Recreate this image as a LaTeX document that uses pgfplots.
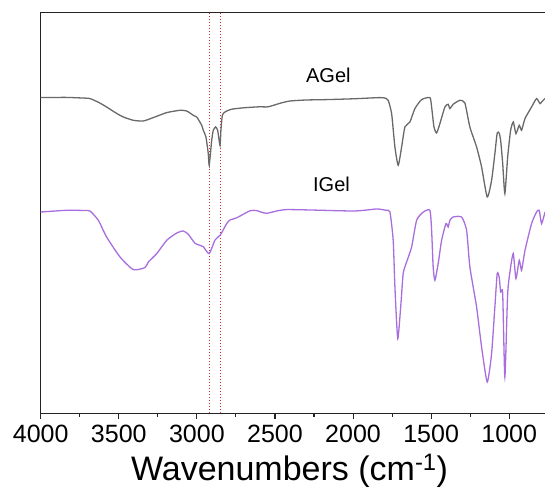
\documentclass[border=0pt]{standalone}
\usepackage{fontspec}
\setmainfont{Liberation Sans}
\usepackage{pgfplots}
\pgfplotsset{compat=1.18}
\usetikzlibrary{calc}
\definecolor{agray}{RGB}{105,105,105}
\definecolor{ipurp}{RGB}{168,110,222}
\definecolor{dred}{RGB}{205,50,50}
\definecolor{axc}{RGB}{35,35,35}
\begin{document}
\begin{tikzpicture}
\begin{axis}[
  name=ax,
  scale only axis,
  width=504.3pt, height=401pt,
  x dir=reverse,
  xmin=771, xmax=4000,
  ymin=0, ymax=401,
  separate axis lines,
  axis x line*=box,
  axis y line*=left,
  axis line style={-, axc, line width=1.2pt},
  ytick=\empty,
  xtick={1000,1500,2000,2500,3000,3500,4000},
  minor xtick={1250,1750,2250,2750,3250,3750},
  xtick pos=bottom,
  tick align=outside,
  major tick length=5.5pt,
  minor tick length=3.5pt,
  every tick/.style={axc, line width=1.1pt},
  scaled x ticks=false,
  /pgf/number format/1000 sep={},
  /pgf/number format/assume math mode=true,
  xticklabel style={font=\fontsize{25}{28}\selectfont, anchor=base, yshift=-24pt},
  xlabel={Wavenumbers (cm\textsuperscript{-1})},
  xlabel style={font=\fontsize{34}{36}\selectfont, anchor=base, at={(axis description cs:0.4934,0)}, yshift=-66.7pt},
  clip=true,
]
\addplot[dred, line width=1pt, dash pattern=on 1.6pt off 1.4pt] coordinates {(2920,0) (2920,401)};
\addplot[dred, line width=1pt, dash pattern=on 1.6pt off 1.4pt] coordinates {(2850,0) (2850,401)};
\addplot[agray, line width=1.3pt, smooth, tension=0.35] table {
4000 315.7
3840 315.9
3720 315.2
3684 314.7
3630 311
3578 306.3
3520 300.5
3471 296.3
3407 293
3343 292.3
3279 295.7
3193 300.7
3108 303
3065 302.3
3023 298
3001 296.3
2969 288
2959 283
2942 276.3
2927 259.7
2921 248
2905 273
2895 283
2880 286.3
2867 283
2852 268
2846 283
2837 298
2820 301.3
2780 304
2700 305.5
2600 306.5
2543 306.5
2468 310
2404 312.3
2300 313.3
2169 313.7
2000 314.5
1828 315.7
1790 315
1775 313
1753 299.7
1732 266.3
1711 248
1689 266.3
1668 286.3
1636 291.3
1604 304.7
1561 313.7
1508 315.7
1497 306.3
1482 286.3
1465 280.3
1444 289.7
1412 306.3
1391 309
1380 304.7
1359 309
1316 313
1284 310.3
1252 286.3
1209 266.3
1177 246.3
1141 216.3
1113 233
1092 259.7
1077 280.3
1064 280
1055 273
1042 250
1028 219.7
1010 256.3
991 283
974 291.3
957 279.7
936 288
921 283
899 294.7
857 306.3
825 314.7
803 309.7
789 312
771 314.7
};
\addplot[ipurp, line width=1.3pt, smooth, tension=0.35] table {
4000 201.3
3834 203
3720 202.8
3684 202.3
3631 193
3578 176.3
3492 156.3
3407 143.7
3332 145.7
3311 151.3
3257 159.7
3193 173
3129 180.3
3087 182.3
3055 179
3012 170
2980 168
2959 166.6
2921 159.7
2884 173.3
2850 178.3
2809 189.7
2788 193.3
2745 195.5
2660 202.5
2617 202.7
2553 200
2425 203.7
2000 202.3
1849 204.3
1790 203
1764 201.3
1743 173
1732 126.3
1714 74.7
1695 106.3
1679 139.7
1657 151.3
1625 166.3
1593 193
1550 201.3
1508 203
1497 183
1487 146.3
1476 133
1455 149.7
1433 173
1405 189.7
1391 186.3
1380 193
1359 196.3
1305 196.3
1273 183
1252 146.3
1209 106.3
1177 66.3
1141 31.3
1113 59.7
1092 106.3
1077 139.7
1064 136
1055 121.3
1042 120
1028 36.3
1010 120
991 146.3
974 159.7
957 134.7
936 153
921 143
899 163
857 189.7
825 201.3
808 203
793 189.7
771 201.3
};
\node[font=\fontsize{20}{22}\selectfont, text=black] at (axis cs:2158,337.8) {AGel};
\node[font=\fontsize{20}{22}\selectfont, text=black] at (axis cs:2138,229.3) {IGel};
\end{axis}
\pgfresetboundingbox
\path[use as bounding box] ($(ax.south west)+(-40.7pt,-75.7pt)$) rectangle ($(ax.south west)+(504.3pt,413.3pt)$);
\end{tikzpicture}
\end{document}
